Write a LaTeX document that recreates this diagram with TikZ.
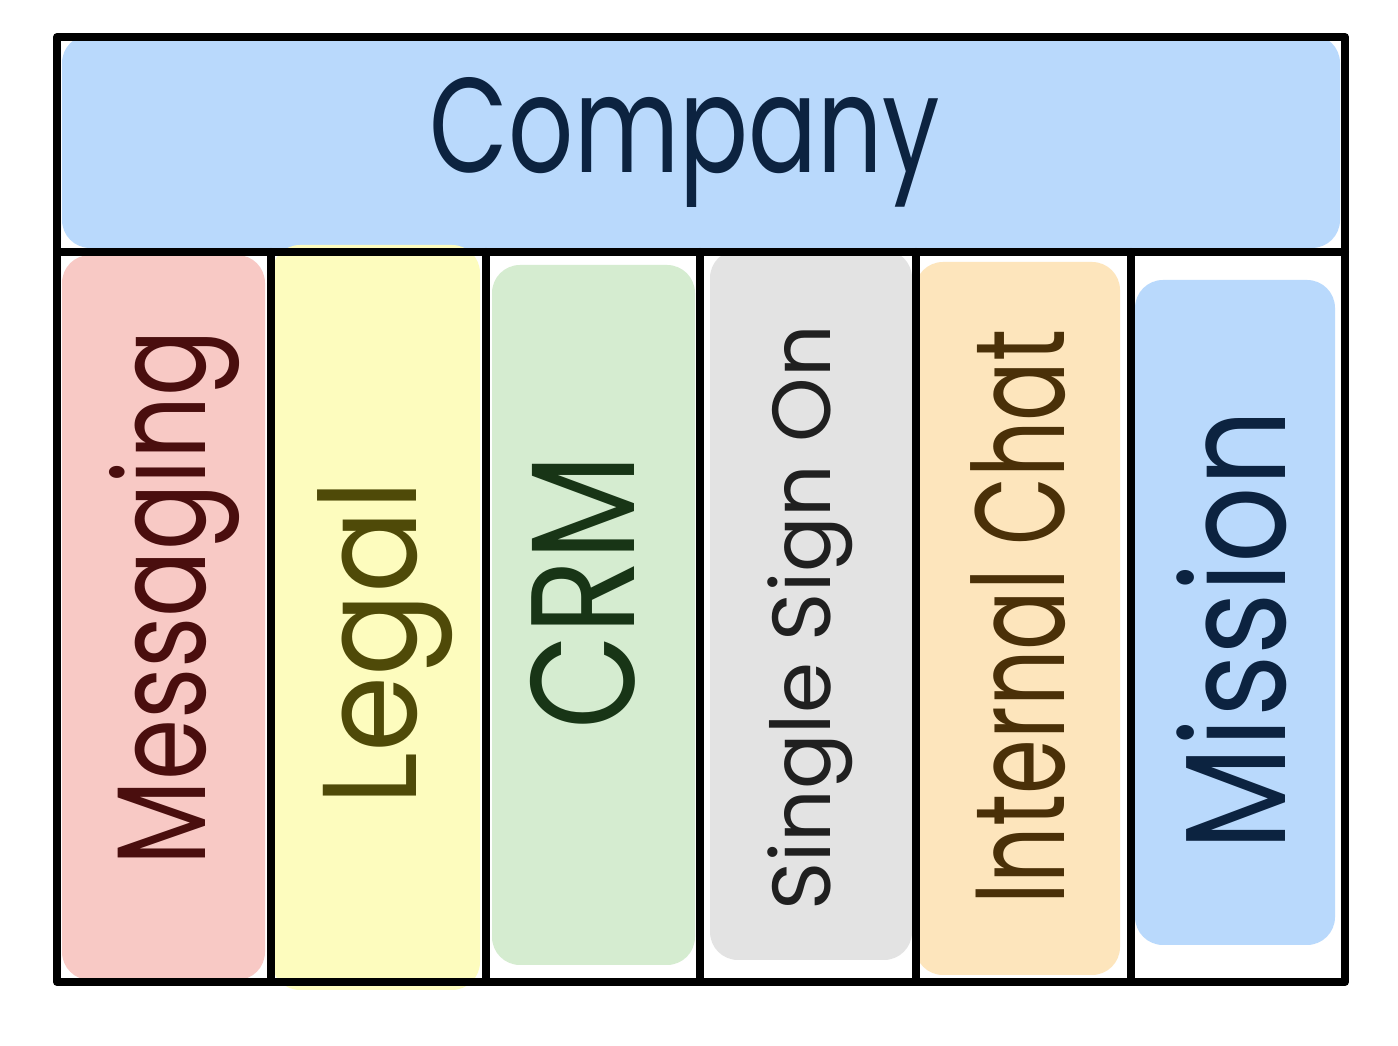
\documentclass[tikz,border=0pt]{standalone}
\usepackage{fontspec}
\usepackage{graphicx}
\setmainfont{Poppins}
\definecolor{cblue}{HTML}{B9D9FC}
\definecolor{cnavy}{HTML}{0C2340}
\definecolor{cpink}{HTML}{F8C9C5}
\definecolor{cpinktxt}{HTML}{4A0E0E}
\definecolor{cyel}{HTML}{FDFCBE}
\definecolor{cyeltxt}{HTML}{4F4A08}
\definecolor{cgreen}{HTML}{D5ECD0}
\definecolor{cgreentxt}{HTML}{183516}
\definecolor{cgray}{HTML}{E3E3E3}
\definecolor{cgraytxt}{HTML}{202020}
\definecolor{corange}{HTML}{FDE5BC}
\definecolor{corangetxt}{HTML}{4A3008}
\tikzset{
  blob/.style={rounded corners=28pt, draw=none},
  frame/.style={draw=black, line width=8pt, line cap=round, line join=round},
  lbl/.style={inner sep=0pt, anchor=center}
}
\begin{document}
\begin{tikzpicture}[x=1pt,y=1pt]
\useasboundingbox[fill=white] (0,0) rectangle (1398,1046);
% fills
\fill[blob, cblue] (62,798) rectangle (1340,1011);
\fill[blob, cpink] (62,66) rectangle (265,791);
\fill[blob, cyel] (272,56) rectangle (480,801);
\fill[blob, cgreen] (492,81) rectangle (695,781);
\fill[blob, cgray] (710,86) rectangle (912,796);
\fill[blob, corange] (915,71) rectangle (1120,784);
\fill[blob, cblue] (1135,101) rectangle (1335,766);
% labels
\node[lbl, text=cnavy] (company) at (685,904) {\resizebox*{510pt}{130pt}{Company}};
\node[lbl, text=cpinktxt, rotate=90] (messaging) at (175,448) {\resizebox*{535pt}{130pt}{Messaging}};
\node[lbl, text=cyeltxt, rotate=90] (legal) at (385,403) {\resizebox*{325pt}{135pt}{Legal}};
\node[lbl, text=cgreentxt, rotate=90] (crm) at (583,454) {\resizebox*{275pt}{105pt}{CRM}};
\node[lbl, text=cgraytxt, rotate=90] (sso) at (810,428) {\resizebox*{585pt}{85pt}{Single Sign On}};
\node[lbl, text=corangetxt, rotate=90] (chat) at (1018,429) {\resizebox*{575pt}{95pt}{Internal Chat}};
\node[lbl, text=cnavy, rotate=90] (mission) at (1232,416) {\resizebox*{440pt}{110pt}{Mission}};
% frame
\draw[frame] (57,64) rectangle (1345,1009);
\draw[frame] (57,794) -- (1345,794);
\foreach \x in {271,486,700,916,1131} {\draw[frame] (\x,794) -- (\x,64);}
\end{tikzpicture}
\end{document}
